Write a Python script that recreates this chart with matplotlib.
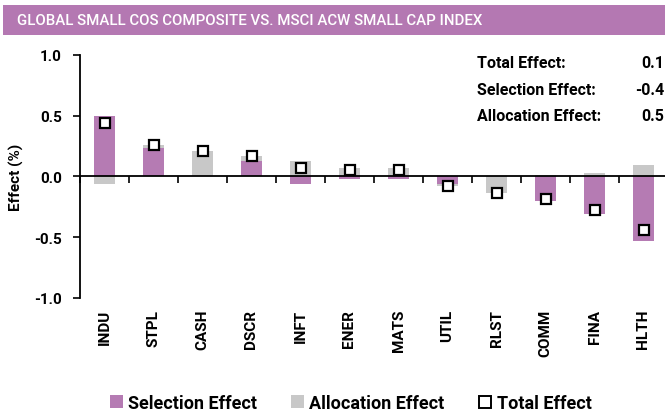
import matplotlib
matplotlib.use("Agg")
import matplotlib.pyplot as plt
from matplotlib.patches import Patch, Rectangle
from matplotlib.lines import Line2D
import numpy as np

plt.rcParams['font.family'] = ['Roboto', 'DejaVu Sans']

categories = ["INDU", "STPL", "CASH", "DSCR", "INFT", "ENER", "MATS", "UTIL", "RLST", "COMM", "FINA", "HLTH"]
selection = [0.50, 0.23, 0.00, 0.13, -0.06, -0.02, -0.02, -0.06, 0.00, -0.20, -0.31, -0.53]
allocation = [-0.06, 0.03, 0.21, 0.04, 0.13, 0.07, 0.07, -0.02, -0.14, 0.01, 0.03, 0.09]
total = [0.44, 0.26, 0.21, 0.17, 0.07, 0.05, 0.05, -0.08, -0.14, -0.19, -0.28, -0.44]
summary_labels = ["Total Effect:", "Selection Effect:", "Allocation Effect:"]
summary_values = ["0.1", "-0.4", "0.5"]
yticks = [1.0, 0.5, 0.0, -0.5, -1.0]

PURPLE = '#b57bb3'
GRAY = '#c8c8c8'

W, H = 665, 414
fig = plt.figure(figsize=(W / 100, H / 100), dpi=100)

# Title banner
fig.patches.append(Rectangle((3 / W, 1 - 36 / H), 1, 30 / H, transform=fig.transFigure,
                             facecolor='#b478b2', edgecolor='none'))
fig.text(17 / W, 1 - 21 / H, "GLOBAL SMALL COS COMPOSITE VS. MSCI ACW SMALL CAP INDEX",
         color='white', fontsize=10.8, fontweight='medium', va='center', ha='left')

ax = fig.add_axes([80 / W, 1 - 299 / H, 588 / W, 243.3 / H])
x = np.arange(len(categories))
sel = np.array(selection)
alc = np.array(allocation)
bottom_alc = np.where(np.sign(alc) == np.sign(sel), sel, 0.0)
ax.bar(x, sel, width=0.41, color=PURPLE, zorder=2)
ax.bar(x, alc, width=0.41, bottom=bottom_alc, color=GRAY, zorder=2)
ax.plot(x, total, linestyle='none', marker='s', markersize=7.8, markerfacecolor='white',
        markeredgecolor='black', markeredgewidth=1.6, zorder=3)

ax.set_xlim(-0.5, len(categories) - 0.5)
ax.set_ylim(-1.0, 1.0)
ax.set_yticks(yticks)
ax.set_yticklabels([f"{v:.1f}" for v in yticks])
ax.tick_params(axis='y', direction='out', length=5, width=1.2, labelsize=11, pad=8)
for lab in ax.get_yticklabels():
    lab.set_fontweight('bold')

ax.spines['top'].set_visible(False)
ax.spines['right'].set_visible(False)
ax.spines['bottom'].set_position(('data', 0))
ax.spines['left'].set_linewidth(1.3)
ax.spines['bottom'].set_linewidth(1.3)
ax.set_xticks(np.arange(len(categories) + 1) - 0.5)
ax.set_xticklabels([])
ax.tick_params(axis='x', direction='out', length=5, width=1.2)

for i, c in enumerate(categories):
    ax.text(i, -0.045, c, transform=ax.get_xaxis_transform(), rotation=90,
            ha='center', va='top', fontsize=11, fontweight='bold')

ax.set_ylabel("Effect (%)", fontsize=11, fontweight='bold')
ax.yaxis.set_label_coords(-0.095, 0.5)

for i, (lab, val) in enumerate(zip(summary_labels, summary_values)):
    y = 1 - (64 + 26.5 * i) / H
    fig.text(477 / W, y, lab, fontsize=11.5, fontweight='bold', ha='left', va='center')
    fig.text(664 / W, y, val, fontsize=11.5, fontweight='bold', ha='right', va='center')

handles = [Patch(facecolor=PURPLE, edgecolor='none'),
           Patch(facecolor=GRAY, edgecolor='none'),
           Line2D([], [], linestyle='none', marker='s', markersize=8, markerfacecolor='white',
                  markeredgecolor='black', markeredgewidth=1.4)]
leg = fig.legend(handles, ["Selection Effect", "Allocation Effect", "Total Effect"],
                 loc='center', bbox_to_anchor=(351 / W, 1 - 404 / H), ncol=3, frameon=False,
                 handlelength=0.7, handleheight=0.7, handletextpad=0.3, columnspacing=1.9,
                 prop={'size': 13, 'weight': 'bold'})

fig.savefig("out.png", dpi=100)
